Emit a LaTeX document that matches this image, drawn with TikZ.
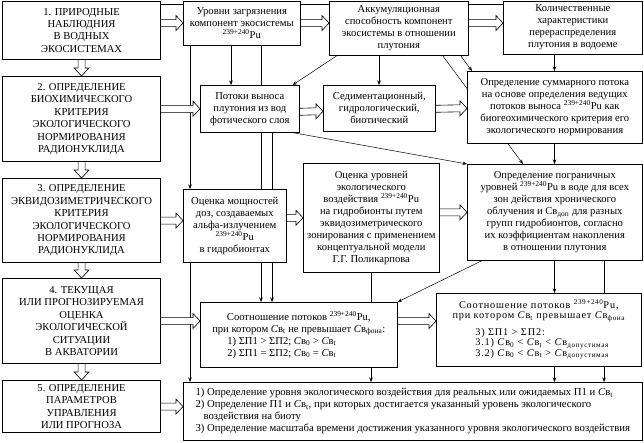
\documentclass[tikz,border=0pt]{standalone}
\usepackage{fontspec}
\setmainfont{Liberation Serif}
\usetikzlibrary{calc,arrows.meta}
\pgfdeclarelayer{bg}
\pgfsetlayers{bg,main}
\newcommand\Pu{\textsuperscript{239+240}Pu}
\newcommand\Cv{\textit{C}в}
\newcommand\lo[1]{\textsubscript{#1}}
\newcommand\harr[2]{\draw[hol] ($(#1)+(0,-3.5)$) -- ($(#2)+(-7,-3.5)$) -- ($(#2)+(-7,-7.5)$) -- (#2) -- ($(#2)+(-7,7.5)$) -- ($(#2)+(-7,3.5)$) -- ($(#1)+(0,3.5)$);}
\newcommand\varr[2]{\draw[hol] ($(#1)+(-3.5,0)$) -- ($(#2)+(-3.5,-8)$) -- ($(#2)+(-7.5,-8)$) -- (#2) -- ($(#2)+(7.5,-8)$) -- ($(#2)+(3.5,-8)$) -- ($(#1)+(3.5,0)$);}
\tikzset{
  lbox/.style={draw, line width=1.1pt, fill=white, align=center, anchor=north west, inner sep=1pt, font=\fontsize{10.6}{12.4}\selectfont},
  rbox/.style={draw, line width=0.6pt, fill=white, align=center, anchor=north west, inner sep=1pt, font=\fontsize{10.6}{12}\selectfont},
  con/.style={line width=0.5pt, -{Stealth[length=4.5pt,width=3.5pt]}},
  plainline/.style={line width=0.5pt},
  hol/.style={line width=0.6pt, fill=white, line join=miter},
}
\begin{document}
\begin{tikzpicture}[x=1pt,y=-1pt]
\useasboundingbox (0,0) rectangle (644,442);
% left column
\node[lbox, minimum width=158pt, minimum height=58.5pt] (b1) at (2,0.5) {1. ПРИРОДНЫЕ\\ НАБЛЮДНИЯ\\ В ВОДНЫХ\\ ЭКОСИСТЕМАХ};
\node[lbox, minimum width=158pt, minimum height=85pt] (b2) at (2,76) {2. ОПРЕДЕЛЕНИЕ\\ БИОХИМИЧЕСКОГО\\ КРИТЕРИЯ\\ ЭКОЛОГИЧЕСКОГО\\ НОРМИРОВАНИЯ\\ РАДИОНУКЛИДА};
\node[lbox, minimum width=158pt, minimum height=84pt] (b3) at (2,178) {3. ОПРЕДЕЛЕНИЕ\\ ЭКВИДОЗИМЕТРИЧЕСКОГО\\ КРИТЕРИЯ\\ ЭКОЛОГИЧЕСКОГО\\ НОРМИРОВАНИЯ\\ РАДИОНУКЛИДА};
\node[lbox, minimum width=158pt, minimum height=85pt] (b4) at (2,278) {4. ТЕКУЩАЯ\\ ИЛИ ПРОГНОЗИРУЕМАЯ\\ ОЦЕНКА\\ ЭКОЛОГИЧЕСКОЙ\\ СИТУАЦИИ\\ В АКВАТОРИИ};
\node[lbox, minimum width=158pt, minimum height=52pt] (b5) at (2,380) {5. ОПРЕДЕЛЕНИЕ\\ ПАРАМЕТРОВ\\ УПРАВЛЕНИЯ\\ ИЛИ ПРОГНОЗА};
% top row
\node[rbox, minimum width=117pt, minimum height=44.5pt] (ur) at (183,0.5) {Уровни загрязнения\\ компонент экосистемы\\ \Pu};
\node[rbox, minimum width=139pt, minimum height=54.5pt] (ak) at (329,0.5) {Аккумуляционная\\ способность компонент\\ экосистемы в отношении\\ плутония};
\node[rbox, minimum width=139pt, minimum height=53.5pt] (kol) at (503,0.5) {Количественные\\ характеристики\\ перераспределения\\ плутония в водоеме};
% second row
\node[rbox, minimum width=99pt, minimum height=47pt] (pot) at (200,85) {Потоки выноса\\ плутония из вод\\ фотического слоя};
\node[rbox, minimum width=112pt, minimum height=46pt] (sed) at (323,85) {Седиментационный,\\ гидрологический,\\ биотический};
\node[rbox, minimum width=175pt, minimum height=72pt] (sum) at (467,71) {Определение суммарного потока\\ на основе определения ведущих\\ потоков выноса \Pu\ как\\ биогеохимического критерия его\\ экологического нормирования};
% third row
\node[rbox, minimum width=103pt, minimum height=73pt] (mosh) at (183,189) {Оценка мощностей\\ доз, создаваемых\\ альфа-излучением\\ \Pu\\ в гидробионтах};
\node[rbox, minimum width=136pt, minimum height=109pt] (ocu) at (303,163) {Оценка уровней\\ экологического\\ воздействия \Pu\\ на гидробионты путем\\ эквидозиметрического\\ зонирования с применением\\ концептуальной модели\\ Г.Г. Поликарпова};
\node[rbox, minimum width=175pt, minimum height=96pt] (pogr) at (467,164) {Определение пограничных\\ уровней \Pu\ в воде для всех\\ зон действия хронического\\ облучения и Св\lo{доп} для разных\\ групп гидробионтов, согласно\\ их коэффициентам накопления\\ в отношении плутония};
% fourth row
\node[rbox, minimum width=197pt, minimum height=65pt] (s1) at (200,302) {Соотношение потоков \Pu,\\ при котором \Cv\lo{t} не превышает \Cv\lo{фона}:\\ \makebox[143pt][l]{1) ΣП1 > ΣП2; \Cv\lo{0} > \Cv\lo{t}}\\ \makebox[143pt][l]{2) ΣП1 = ΣП2; \Cv\lo{0} = \Cv\lo{t}}};
\node[rbox, minimum width=205pt, minimum height=73pt, font=\fontsize{10.3}{10.5}\selectfont\addfontfeature{LetterSpace=8}] (s2) at (436,293) {Соотношение потоков \Pu,\\ при котором \Cv\lo{t} превышает \Cv\lo{фона}\\[6pt] \makebox[127pt][l]{3) ΣП1 > ΣП2:}\\ \makebox[127pt][l]{3.1) \Cv\lo{0} < \Cv\lo{t} < \Cv\lo{допустимая}}\\ \makebox[127pt][l]{3.2) \Cv\lo{0} < \Cv\lo{t} > \Cv\lo{допустимая}}};
% final
\node[rbox, minimum width=459pt, minimum height=58pt, align=left, font=\fontsize{10.7}{12}\selectfont] (fin) at (183,382) {1) Определение уровня экологического воздействия для реальных или ожидаемых П1 и \Cv\lo{t}\\ 2) Определение П1 и \Cv\lo{t}, при которых достигается указанный уровень экологического\\ \hspace*{8pt}воздействия на биоту\\ 3) Определение масштаба времени достижения указанного уровня экологического воздействия};
% guides
\coordinate (xa) at (190,0);
\coordinate (xb) at (231,0);
\coordinate (xc) at (261,0);
\coordinate (xd) at (272,0);
\coordinate (xe) at (379,0);
\coordinate (xf) at (554.5,0);
\coordinate (xg) at (371,0);
\coordinate (xh) at (604,0);
\coordinate (ytop) at (0,4);
\begin{pgfonlayer}{bg}
\draw[plainline] (b1.east |- ytop) -- (kol.west |- ytop);
\draw[con] (ur.south -| xa) -- (mosh.north -| xa);
\draw[con] (ur.south -| xb) -- (pot.north -| xb);
\draw[con] (ur.south -| xc) -- (s1.north -| xc);
\draw[con] (pot.south -| xd) -- (s1.north -| xd);
\draw[con] ($(ak.south west)+(8,0)$) -- ($(pot.north east)+(-7,0)$);
\draw[con] (ak.south -| xe) -- (sed.north -| xe);
\draw[con] ($(ak.south east)+(-26,0)$) -- ($(pogr.north west)+(56,0)$);
\draw[con] ($(ak.south east)+(-8,0)$) -- ($(sum.north west)+(5,0)$);
\draw[con] (kol.south -| xf) -- (sum.north -| xf);
\draw[con] (sum.south -| xf) -- (pogr.north -| xf);
\draw[con] ($(pot.south east)+(-7,0)$) -- (pogr.north west);
\draw[con] (mosh.south -| xa) -- (fin.north -| xa);
\draw[con] (ocu.south -| xg) -- (fin.north -| xg);
\draw[con] (pogr.south -| xf) -- (s2.north -| xf);
\draw[con] (pogr.south -| xh) -- (fin.north -| xh);
\draw[con] ($(pogr.south west)+(15,0)$) -- (s1.north east);
\draw[con] (s2.south -| xf) -- (fin.north -| xf);
% hollow arrows
\harr{b1.east |- ur.west}{ur.west}
\harr{ur.east}{ur.east -| ak.west}
\harr{ak.east |- ur.east}{kol.west |- ur.east}
\harr{b2.east |- pot.west}{pot.west}
\harr{$(pot.east)+(0,3)$}{$(sed.west)+(0,3)$}
\harr{pot.east -| sed.east}{sum.west |- sed.east}
\harr{b3.east}{b3.east -| mosh.west}
\harr{mosh.east |- ocu.west}{ocu.west}
\harr{ocu.east |- pogr.west}{pogr.west}
\harr{b4.east}{b4.east -| s1.west}
\harr{s1.east |- b4.east}{s2.west |- b4.east}
\harr{b5.east}{b5.east -| fin.west}
\varr{b1.south}{b2.north}
\varr{b2.south}{b3.north}
\varr{b3.south}{b4.north}
\varr{b4.south}{b5.north}
\end{pgfonlayer}
\end{tikzpicture}
\end{document}
